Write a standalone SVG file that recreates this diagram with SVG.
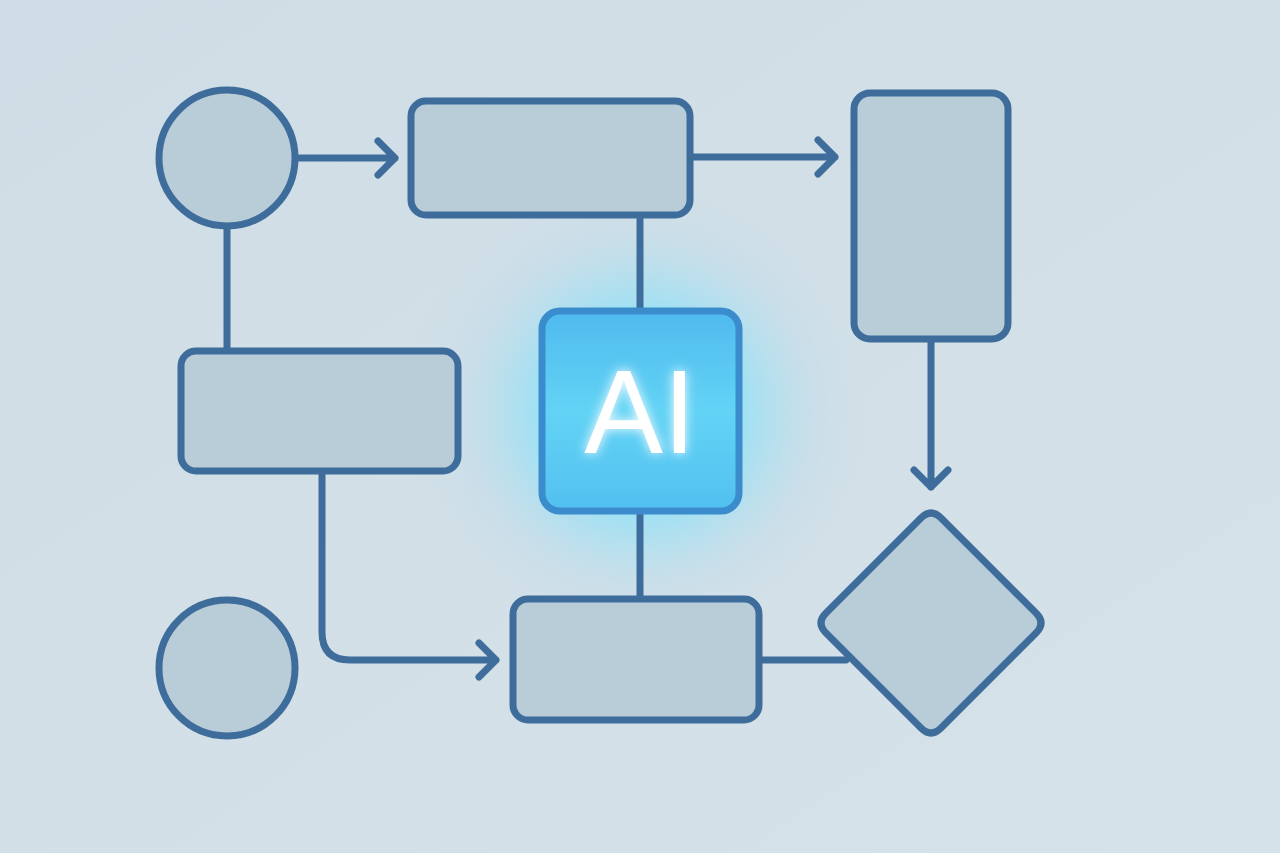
<svg xmlns="http://www.w3.org/2000/svg" width="1280" height="853" viewBox="0 0 1280 853">
<defs>
<linearGradient id="bg" x1="0" y1="0" x2="1" y2="1">
<stop offset="0" stop-color="#cfdde6"/>
<stop offset="1" stop-color="#d6e2e9"/>
</linearGradient>
<radialGradient id="halo" cx="640" cy="412" r="250" gradientUnits="userSpaceOnUse">
<stop offset="0" stop-color="#66eaff" stop-opacity="1"/>
<stop offset="0.4" stop-color="#86e2fa" stop-opacity="0.7"/>
<stop offset="0.7" stop-color="#b5dcec" stop-opacity="0.3"/>
<stop offset="1" stop-color="#d3e0e8" stop-opacity="0"/>
</radialGradient>
<linearGradient id="aiFill" x1="0" y1="0" x2="0" y2="1">
<stop offset="0" stop-color="#4fbaee"/>
<stop offset="0.5" stop-color="#62d3f5"/>
<stop offset="1" stop-color="#52c0f0"/>
</linearGradient>
<filter id="glow" x="-30%" y="-30%" width="160%" height="160%">
<feGaussianBlur stdDeviation="6" result="b"/>
<feMerge><feMergeNode in="b"/><feMergeNode in="SourceGraphic"/></feMerge>
</filter>
<style>
.node{fill:#b9cdd9;stroke:#3f6d9b;stroke-width:7;stroke-linejoin:round}
.edge{fill:none;stroke:#3f6d9b;stroke-width:7;stroke-linecap:round;stroke-linejoin:round}
.ai{font-family:"Liberation Sans",Arial,sans-serif;font-size:118px;fill:#ffffff}
</style>
</defs>
<rect width="1280" height="853" fill="url(#bg)"/>
<circle cx="640" cy="412" r="260" fill="url(#halo)"/>

<g id="connectors">
<path class="edge" d="M298 158 H395 M378 141 L395 158 L378 175"/>
<path class="edge" d="M691 157 H835 M818 140 L835 157 L818 174"/>
<path class="edge" d="M931 340 V487 M914 470 L931 487 L948 470"/>
<path class="edge" d="M227 226 V350"/>
<path class="edge" d="M322 472 V632 Q322 660 350 660 H496 M479 643 L496 660 L479 677"/>
<path class="edge" d="M760 660 H846"/>
<path class="edge" d="M640 216 V310"/>
<path class="edge" d="M640 513 V598"/>
</g>

<g id="start-circle"><circle class="node" cx="227" cy="158" r="68"/></g>
<g id="top-rect"><rect class="node" x="411" y="101" width="279" height="114" rx="15"/></g>
<g id="tall-rect"><rect class="node" x="854" y="93" width="154" height="246" rx="16"/></g>
<g id="left-rect"><rect class="node" x="181" y="351" width="277" height="120" rx="15"/></g>
<g id="end-circle"><circle class="node" cx="227" cy="668" r="68"/></g>
<g id="bottom-rect"><rect class="node" x="513" y="599" width="246" height="121" rx="15"/></g>
<g id="diamond"><path class="node" d="M921 513 Q931 503 941 513 L1036 608 Q1046 618 1036 628 L941 723 Q931 733 921 723 L826 628 Q816 618 826 608 Z" transform="translate(0 5)"/></g>
<g id="ai-node">
<rect x="542" y="311" width="197" height="200" rx="18" fill="url(#aiFill)" stroke="#3b8ccc" stroke-width="7"/>
<text class="ai" x="640" y="453" text-anchor="middle" filter="url(#glow)">AI</text>
</g>
</svg>
